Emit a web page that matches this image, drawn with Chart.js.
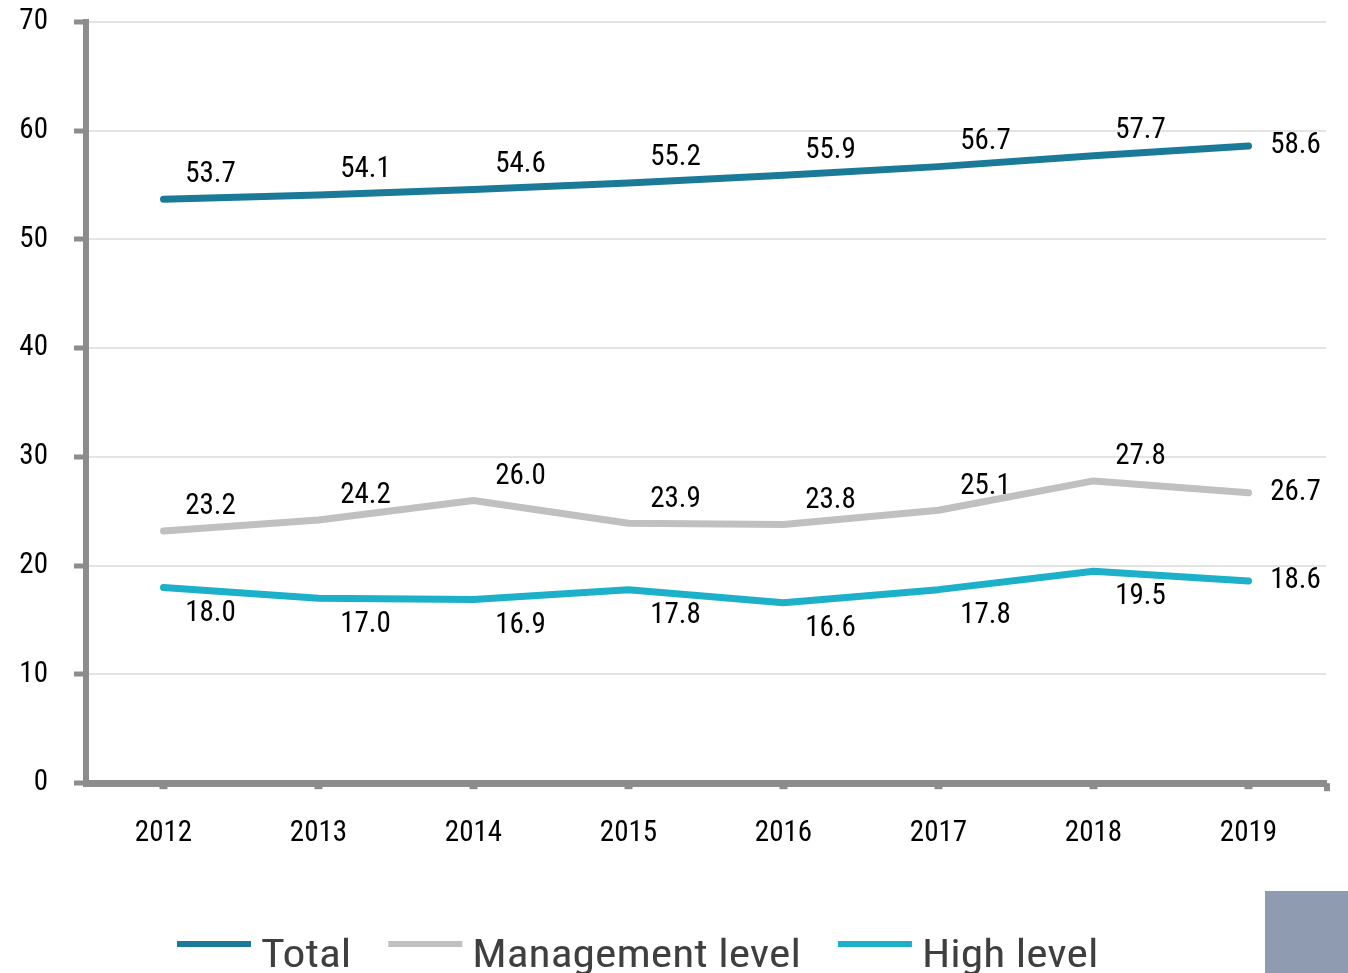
<!DOCTYPE html>
<html>
<head>
<meta charset="utf-8">
<script src="https://cdn.jsdelivr.net/npm/chart.js@4.4.1/dist/chart.umd.min.js"></script>
<style>
  html, body { margin: 0; padding: 0; background: #fff; overflow: hidden; }
  #wrap { position: relative; width: 1348px; height: 973px; }
  #corner { position: absolute; left: 1265px; top: 891px; width: 83px; height: 82px; background: #8e9bb0; }
</style>
</head>
<body>
<div id="wrap">
  <canvas id="main-graph" width="1348" height="973"></canvas>
  <div id="corner"></div>
</div>
<script>
// data
const years = ["2012", "2013", "2014", "2015", "2016", "2017", "2018", "2019"]
const totalValues = [53.7, 54.1, 54.6, 55.2, 55.9, 56.7, 57.7, 58.6]
const managementValues = [23.2, 24.2, 26.0, 23.9, 23.8, 25.1, 27.8, 26.7]
const highLevelValues = [18.0, 17.0, 16.9, 17.8, 16.6, 17.8, 19.5, 18.6]
const yTicks = [0, 10, 20, 30, 40, 50, 60, 70]

const FONT = "'Roboto Condensed', 'Liberation Sans Narrow', Roboto, sans-serif"
const AXIS_GREY = '#8c8c8c'

// value labels next to every point
const valueLabels = {
    id: 'valueLabels',
    afterDatasetsDraw(chart, args, opts) {
        const ctx = chart.ctx
        ctx.save()
        ctx.font = `${opts.size}px ${FONT}`
        ctx.fillStyle = opts.color
        ctx.textAlign = 'center'
        ctx.textBaseline = 'middle'
        chart.data.datasets.forEach((ds, i) => {
            const meta = chart.getDatasetMeta(i)
            meta.data.forEach((pt, j) => {
                const last = j === meta.data.length - 1
                const dy = last ? 0 : opts.dy[i]
                ctx.fillText(ds.data[j].toFixed(1), pt.x + opts.dx, pt.y + dy)
            })
        })
        ctx.restore()
    }
}

// legend drawn as long line swatches with tall narrow text
const lineLegend = {
    id: 'lineLegend',
    afterDraw(chart, args, opts) {
        const ctx = chart.ctx
        ctx.save()
        ctx.font = `${opts.size}px ${FONT}`
        ctx.textBaseline = 'alphabetic'
        let x = opts.x
        chart.data.datasets.forEach(ds => {
            ctx.fillStyle = ds.borderColor
            ctx.fillRect(x, opts.lineY - opts.lineHeight / 2, opts.lineWidth, opts.lineHeight)
            x += opts.lineWidth + opts.gap
            ctx.save()
            ctx.translate(x, opts.textY)
            ctx.scale(opts.stretch, 1)
            ctx.fillStyle = opts.color
            ctx.fillText(ds.label, 0, 0)
            ctx.restore()
            x += ctx.measureText(ds.label).width * opts.stretch + opts.spacing
        })
        ctx.restore()
    }
}

// small closing tick at the right end of the x axis
const axisEndTick = {
    id: 'axisEndTick',
    afterDraw(chart) {
        const { ctx, chartArea } = chart
        ctx.save()
        ctx.fillStyle = AXIS_GREY
        ctx.fillRect(chartArea.right - 2, chartArea.bottom, 6, 8)
        ctx.restore()
    }
}

const ctx = document.getElementById('main-graph').getContext('2d')

new Chart(ctx, {
    type: 'line',
    data: {
        labels: years,
        datasets: [
            { label: 'Total', data: totalValues, borderColor: '#1b7a98', backgroundColor: '#1b7a98' },
            { label: 'Management level', data: managementValues, borderColor: '#c0c0c0', backgroundColor: '#c0c0c0' },
            { label: 'High level', data: highLevelValues, borderColor: '#1cb1c8', backgroundColor: '#1cb1c8' }
        ]
    },
    options: {
        responsive: false,
        animation: false,
        devicePixelRatio: 1,
        layout: {
            padding: { left: 0, top: 22, right: 22, bottom: 95 }
        },
        elements: {
            line: {
                tension: 0,
                borderWidth: 7,
                borderCapStyle: 'round',
                borderJoinStyle: 'round',
                fill: false
            },
            point: { radius: 0, hoverRadius: 0 }
        },
        scales: {
            x: {
                offset: true,
                grid: {
                    offset: false,
                    drawOnChartArea: false,
                    drawTicks: true,
                    tickLength: 6,
                    tickWidth: 8,
                    tickColor: AXIS_GREY
                },
                border: { display: true, color: AXIS_GREY, width: 7 },
                ticks: {
                    font: { family: FONT, size: 29 },
                    color: '#000',
                    padding: 27,
                    maxRotation: 0
                }
            },
            y: {
                min: 0,
                max: 70,
                afterBuildTicks: axis => { axis.ticks = yTicks.map(v => ({ value: v })) },
                afterFit: axis => {
                    axis.width = 86
                    axis.paddingTop = 0
                    axis.paddingBottom = 0
                },
                grid: {
                    color: '#e4e4e4',
                    lineWidth: 2,
                    tickLength: 12,
                    tickWidth: 5,
                    tickColor: AXIS_GREY
                },
                border: { display: true, color: AXIS_GREY, width: 6 },
                ticks: {
                    font: { family: FONT, size: 29 },
                    color: '#000',
                    padding: 26
                }
            }
        },
        plugins: {
            legend: { display: false },
            tooltip: { enabled: false },
            valueLabels: { size: 29, color: '#000', dx: 47, dy: [-25, -24, 26] },
            lineLegend: {
                x: 177, lineY: 944, lineWidth: 74, lineHeight: 6, gap: 10,
                textY: 967, size: 39, stretch: 1.17, spacing: 37, color: '#3f3f3f'
            }
        }
    },
    plugins: [valueLabels, lineLegend, axisEndTick]
})
</script>
</body>
</html>
